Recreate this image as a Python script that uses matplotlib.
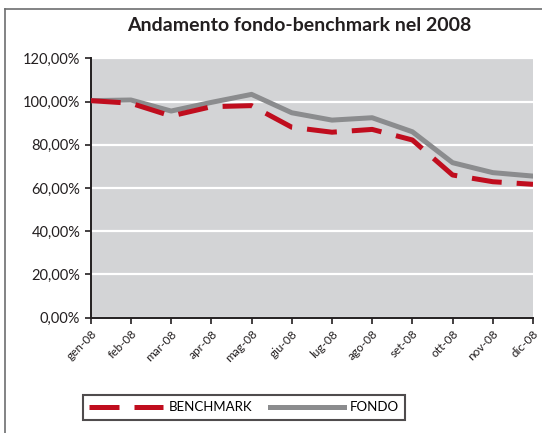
import matplotlib
matplotlib.use('Agg')
import matplotlib.pyplot as plt
from matplotlib.lines import Line2D
from matplotlib.ticker import FuncFormatter

# Month labels and values (percent)
months = ['gen-08', 'feb-08', 'mar-08', 'apr-08', 'mag-08', 'giu-08',
          'lug-08', 'ago-08', 'set-08', 'ott-08', 'nov-08', 'dic-08']
benchmark = [100.4, 99.2, 93.3, 97.6, 98.1, 88.1, 85.8, 87.1, 82.2, 66.0, 62.9, 61.7]
fondo = [100.4, 100.7, 95.6, 99.6, 103.3, 94.8, 91.4, 92.5, 86.0, 71.7, 67.1, 65.5]

plt.rcParams['font.family'] = ['Lato', 'DejaVu Sans']

fig = plt.figure(figsize=(5.42, 4.33), dpi=100)
ax = fig.add_axes([0.1674, 0.2663, 0.8160, 0.5991])

ax.set_facecolor('#d3d4d6')
x = list(range(len(months)))

# fondo drawn first so the benchmark sits on top
ax.plot(x, fondo, color='#8b8c8e', linewidth=3.6, label='FONDO', zorder=3)
ax.plot(x, benchmark, color='#c00d1e', linewidth=3.6, dashes=(6, 3),
        label='BENCHMARK', zorder=4)

ax.set_xlim(0, len(months) - 1)
ax.set_ylim(0, 120)
ax.set_yticks([0, 20, 40, 60, 80, 100, 120])
ax.yaxis.set_major_formatter(FuncFormatter(lambda v, p: f'{v:.2f}%'.replace('.', ',')))
ax.set_xticks(x)
ax.set_xticklabels(months, rotation=45, ha='right', rotation_mode='anchor', fontsize=8.5)
ax.tick_params(axis='y', labelsize=10.5, length=4, width=1.2, colors='#231f20')
ax.tick_params(axis='x', length=4, width=1.2, colors='#231f20')
ax.grid(axis='y', color='white', linewidth=1.6)
ax.set_axisbelow(True)

for s in ['top', 'right']:
    ax.spines[s].set_visible(False)
for s in ['left', 'bottom']:
    ax.spines[s].set_color('#231f20')
    ax.spines[s].set_linewidth(1.4)

fig.text(0.553, 0.941, 'Andamento fondo-benchmark nel 2008', ha='center', va='center',
         fontsize=14, fontweight='bold', color='#231f20')

# outer frame (left and top only visible)
fig.add_artist(Line2D([5 / 542, 5 / 542], [0, 1 - 9 / 433], color='#6d6e70', linewidth=1.2))
fig.add_artist(Line2D([5 / 542, 1], [1 - 9 / 433, 1 - 9 / 433], color='#6d6e70', linewidth=1.2))

handles, labels = ax.get_legend_handles_labels()
leg = fig.legend(handles[::-1], labels[::-1], loc='center', bbox_to_anchor=(0.450, 0.059),
                 ncol=2, fontsize=9.5, handlelength=5.6, frameon=True, fancybox=False,
                 borderpad=0.5, columnspacing=1.4, handletextpad=0.4)
leg.get_frame().set_edgecolor('#231f20')
leg.get_frame().set_linewidth(1.5)

fig.savefig('out.png', dpi=100)
